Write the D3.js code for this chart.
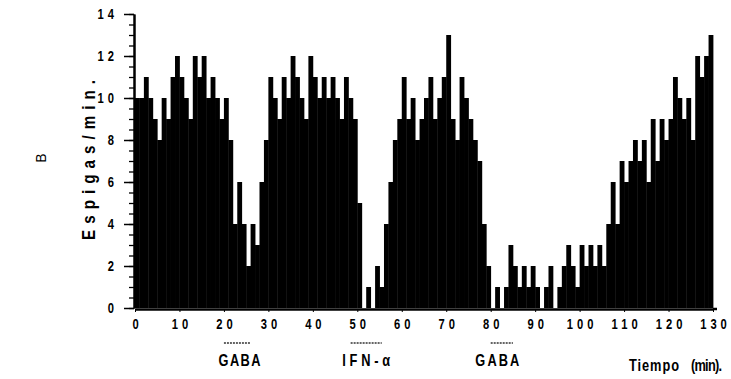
<!DOCTYPE html>
<html><head><meta charset="utf-8">
<script src="https://cdn.jsdelivr.net/npm/d3@7"></script>
<style>
body{margin:0;background:#fff}
svg{display:block}
text{font-family:"Liberation Sans",Arial,sans-serif;font-weight:bold;fill:#000}
</style>
</head><body><svg id="c" width="731" height="379"></svg>
<script>
// spikes per minute, one value per 1-min bin (minute 0..129)
const spikesPerMin = [
 10,10,11,10,9,8,10,9,11,12, 11,10,9,12,11,12,10,11,10,9,
 10,8,4,6,4,2,4,3,6,8, 11,10,9,11,10,12,11,10,9,12,
 11,10,11,10,11,10,9,11,10,9, 5,0,1,0,2,1,4,6,8,9,
 11,9,10,8,9,10,11,9,10,11, 13,9,8,11,10,9,8,7,4,2,
 0,1,0,1,3,2,1,2,1,2, 1,0,1,2,0,1,2,3,2,1,
 3,2,3,2,3,2,4,6,4,7, 6,7,8,7,8,6,9,7,9,8,
 9,11,10,9,10,8,12,11,12,13
];
const xTicks = [0,10,20,30,40,50,60,70,80,90,100,110,120,130];
const yTicks = [0,2,4,6,8,10,12,14];
const yMinorTicks = [0,0.5,1,1.5,2,2.5,3,3.5,4,4.5,5,5.5,6,6.5,7,7.5,8,8.5,9,9.5,10,10.5,11,11.5,12,12.5,13,13.5,14];
const treatments = ["GABA","IFN-α","GABA"];
const treatStart = [20,48.5,80];
const treatEnd = [26,55.5,85];
const treatLabelAt = [23.5,52,81.5];
const yTitle = "Espigas/min.";
const xTitleA = "Tiempo";
const xTitleB = "(min).";
const panelLetter = "B";

const SX = 0.8; // condensed look
const svg = d3.select("#c");
const x = d3.scaleLinear().domain([0,130]).range([135,713]);
const y = d3.scaleLinear().domain([0,14]).range([308,14]);

// bars
svg.append("g").selectAll("rect").data(spikesPerMin).join("rect")
  .attr("x",(d,i)=>x(i))
  .attr("width",(d,i)=>x(i+1)-x(i)+0.4)
  .attr("y",d=>y(d))
  .attr("height",d=>y(0)-y(d))
  .attr("fill","#000");

function condense(sel){
  sel.each(function(){
    const t=d3.select(this);
    const xx=+t.attr("x")||0;
    t.attr("x",xx/SX).attr("transform",`scale(${SX},1)`);
  });
}

// y axis minor ticks
svg.append("g").attr("transform","translate(134,0)")
  .call(d3.axisLeft(y).tickValues(yMinorTicks).tickSize(5).tickSizeOuter(0).tickFormat(""))
  .call(g=>g.select(".domain").attr("stroke-width",2))
  .call(g=>g.selectAll(".tick line").attr("stroke-width",1.3));
// y axis major ticks
svg.append("g").attr("transform","translate(134,0)")
  .call(d3.axisLeft(y).tickValues(yTicks).tickSize(10).tickPadding(6).tickSizeOuter(0))
  .call(g=>g.select(".domain").attr("stroke-width",2))
  .call(g=>g.selectAll(".tick line").attr("stroke-width",1.5))
  .call(g=>g.selectAll(".tick text").attr("font-size",14).attr("font-family",null)
        .style("letter-spacing","5px").call(condense));

// x axis
svg.append("g").attr("transform","translate(0,309)")
  .call(d3.axisBottom(x).tickValues(xTicks).tickSize(3).tickPadding(7).tickSizeOuter(0))
  .call(g=>g.select(".domain").attr("stroke-width",2.5))
  .call(g=>g.selectAll(".tick text").attr("font-size",14).attr("font-family",null)
        .attr("dx","2.5px").style("letter-spacing","5px").call(condense));
// axis line continues a little past the last bin, as in the original
svg.append("line").attr("x1",x(130)).attr("x2",x(130)+4).attr("y1",309).attr("y2",309)
  .attr("stroke","#000").attr("stroke-width",2.5);

function label(px,py,str,size,len,rot,anchor){
  const t=svg.append("text")
    .attr("transform",`translate(${px},${py})${rot?` rotate(${rot})`:""} scale(${SX},1)`)
    .attr("font-size",size).attr("text-anchor",anchor||"start").text(str);
  if(len){t.attr("textLength",len/SX).attr("lengthAdjust","spacing");}
  return t;
}

// treatment markers
treatments.forEach((t,i)=>{
  svg.append("line").attr("x1",x(treatStart[i])).attr("x2",x(treatEnd[i]))
    .attr("y1",343).attr("y2",343).attr("stroke","#333").attr("stroke-width",1.5)
    .attr("stroke-dasharray","2,1");
  label(x(treatLabelAt[i]),366,t,16,[42,48,44][i],0,"middle");
});

// axis titles
label(95,160,yTitle,19,160,-90,"middle");
label(629,371,xTitleA,16,50,0,"start");
label(691,371,xTitleB,16,31,0,"start");
svg.append("text").attr("transform","translate(46,158) rotate(-90)")
  .attr("text-anchor","middle").attr("font-size",14).style("font-weight","normal").text(panelLetter);
</script>
</body></html>
